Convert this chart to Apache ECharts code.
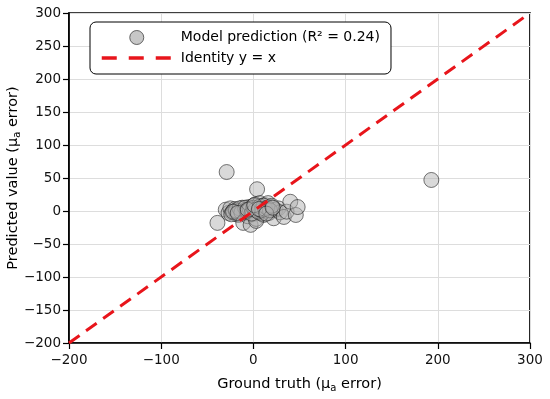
<!DOCTYPE html>
<html><head><meta charset="utf-8">
<script src="https://cdn.jsdelivr.net/npm/echarts@6/dist/echarts.min.js"></script>
<style>html,body{margin:0;padding:0;background:#fff}#c{width:550px;height:399px}</style>
</head><body><div id="c"></div>
<script>
var truthVals = [-29,193,4,-39,-30,-27,-25,-23,-20,-18,-16,-14,-12,-11,-10,-8,-6,-5,-3,-2,-1,0,1,2,3,4,5,6,7,8,10,11,12,14,16,17,19,22,24,27,29,33,36,40,46,48,-24,-7,3,9,
                 -19,-15,-13,-9,-7,-4,-2,0,2,5,7,9,11,13,15,18,20,-22,-17,-6,1,6,14,21];
var predVals  = [59,47,33,-18,2,-3,4,-2,3,-5,-6,0,5,-18,-3,2,-8,6,-21,0,3,8,-4,10,-12,1,5,-2,12,4,5,-6,9,0,12,-3,6,-11,2,4,-2,-9,-1,14,-6,6,-5,-1,-15,-4,
                 1,4,-2,5,0,3,-4,5,2,-1,7,1,8,3,5,1,8,-1,-3,2,9,3,-4,5];
var identityX = [-200, 300];

var pts = truthVals.map(function(v,i){return [v, predVals[i]];});
var idLine = identityX.map(function(v){return [v, v];});
var font = 'DejaVu Sans';
var minus = function(v){return String(v).replace('-', '\u2212');};
var subRich = {s:{fontSize:10,verticalAlign:'bottom',padding:[7,0,0,0],fontFamily:font,color:'#000'}};
var chart = echarts.init(document.getElementById('c'), null, {renderer:'canvas'});
chart.setOption({
  animation:false,
  textStyle:{fontFamily:font},
  grid:{left:69,right:20,top:13,bottom:56,containLabel:false,outerBoundsMode:'none',
        show:true,borderColor:'#000',borderWidth:1.7,backgroundColor:'transparent'},
  legend:{
    left:90, top:22, orient:'vertical', padding:[8,11,9,10],
    borderColor:'#000', borderWidth:1, borderRadius:6, backgroundColor:'#fff',
    itemWidth:70, itemHeight:14, itemGap:6,
    textStyle:{fontFamily:font,fontSize:14,color:'#000',padding:[0,0,0,4]},
    data:[{name:'Model prediction (R² = 0.24)', icon:'circle',
           itemStyle:{color:'rgba(185,185,185,1)',borderColor:'#444',borderWidth:1}},
          {name:'Identity y = x', itemStyle:{opacity:0,color:'rgba(0,0,0,0)',borderColor:'rgba(0,0,0,0)'},
           lineStyle:{color:'#e8151b',width:3.5,type:[15,12]}}]
  },
  xAxis:{
    type:'value', min:-200, max:300, interval:100,
    name:'Ground truth (μ{s|a} error)', nameLocation:'middle', nameGap:33, nameMoveOverlap:false,
    nameTextStyle:{fontFamily:font,fontSize:14.5,color:'#000',rich:subRich},
    axisLine:{show:true,onZero:false,lineStyle:{color:'#000',width:1.7}},
    axisTick:{show:true,length:6,inside:false,lineStyle:{color:'#000',width:1.2}},
    axisLabel:{fontFamily:font,fontSize:13.5,color:'#111',margin:10,formatter:minus},
    splitLine:{show:true,lineStyle:{color:'#ddd',width:1}}
  },
  yAxis:{
    type:'value', min:-200, max:300, interval:50,
    name:'Predicted value (μ{s|a} error)', nameLocation:'middle', nameGap:47, nameRotate:90, nameMoveOverlap:false,
    nameTextStyle:{fontFamily:font,fontSize:14.5,color:'#000',rich:subRich},
    axisLine:{show:true,onZero:false,lineStyle:{color:'#000',width:1.7}},
    axisTick:{show:true,length:6,inside:false,lineStyle:{color:'#000',width:1.2}},
    axisLabel:{fontFamily:font,fontSize:13.5,color:'#111',margin:8,formatter:minus},
    splitLine:{show:true,lineStyle:{color:'#ddd',width:1}}
  },
  series:[
    {name:'Model prediction (R² = 0.24)', type:'scatter', data:pts, symbolSize:15, z:3,
     itemStyle:{color:'rgba(175,175,175,0.6)', borderColor:'rgba(30,30,30,0.75)', borderWidth:1}},
    {name:'Identity y = x', type:'line', data:idLine, showSymbol:false, symbol:'none', z:4,
     itemStyle:{color:'#e8151b'},
     lineStyle:{color:'#e8151b', width:3, type:[13,8]}}
  ]
});
</script></body></html>
